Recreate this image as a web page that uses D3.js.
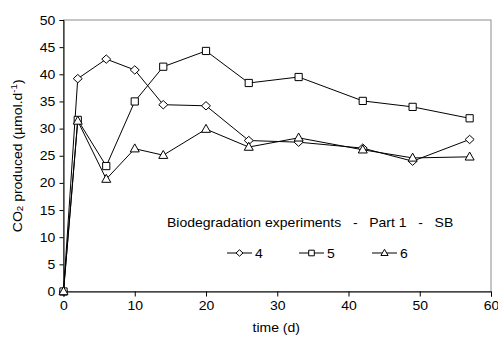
<!DOCTYPE html>
<html><head><meta charset="utf-8">
<script src="https://cdn.jsdelivr.net/npm/d3@7"></script>
<style>body{margin:0;background:#fff}svg{display:block}text{font-family:"Liberation Sans",Arial,sans-serif;fill:#000}</style>
</head><body><svg id="c" width="498" height="343"></svg>
<script>
const days = [0, 2, 6, 10, 14, 20, 26, 33, 42, 49, 57];
const s4 = [0, 39.2, 42.8, 40.8, 34.4, 34.2, 27.8, 27.5, 26.4, 24.0, 28.0];
const s5 = [0, 31.6, 23.1, 35.0, 41.4, 44.3, 38.4, 39.5, 35.1, 34.0, 31.9];
const s6 = [0, 31.4, 20.7, 26.3, 25.1, 29.9, 26.6, 28.3, 26.1, 24.6, 24.8];
const seriesNames = ["4", "5", "6"];
const xTicks = [0, 10, 20, 30, 40, 50, 60];
const yTicks = [0, 5, 10, 15, 20, 25, 30, 35, 40, 45, 50];
const legendTitle = "Biodegradation experiments   -   Part 1   -   SB";

const svg = d3.select("#c");
const L = 63.5, R = 491, T = 20, B = 291.5;
const x = d3.scaleLinear().domain([0, 60]).range([L, R]);
const y = d3.scaleLinear().domain([0, 50]).range([B, T]);
const SX = 1.12, FS = 12.5;

// plot border
svg.append("rect").attr("x", L).attr("y", T).attr("width", R - L).attr("height", B - T)
  .attr("fill", "none").attr("stroke", "#8c8c8c").attr("stroke-width", 1);

// axes
const ax = svg.append("g").attr("transform", `translate(0,${B})`)
  .call(d3.axisBottom(x).tickValues(xTicks).tickSize(5).tickPadding(5));
const ay = svg.append("g").attr("transform", `translate(${L},0)`)
  .call(d3.axisLeft(y).tickValues(yTicks).tickSize(4).tickPadding(4));
[ax, ay].forEach(g => {
  g.select(".domain").attr("stroke", "#000");
  g.selectAll(".tick line").attr("stroke", "#000");
  g.selectAll(".tick text").attr("font-size", FS).attr("fill", "#000")
    .style("font-family", '"Liberation Sans",Arial,sans-serif');
});
ax.selectAll(".tick text").attr("transform", `scale(${SX},1)`);
ay.selectAll(".tick text").attr("transform", `translate(-7,0) scale(${SX},1) translate(7,0)`);

// axis titles
svg.append("text")
  .attr("transform", `translate(${(L+R)/2 - 1},332) scale(${SX},1)`)
  .attr("text-anchor", "middle").attr("font-size", FS).text("time (d)");
const yl = svg.append("text").attr("text-anchor", "middle").attr("font-size", FS)
  .attr("transform", `translate(22,${(T+B)/2}) rotate(-90) scale(${SX},1)`);
yl.append("tspan").text("CO");
yl.append("tspan").attr("font-size", FS*0.7).attr("dy", 1).text("2");
yl.append("tspan").attr("dy", -1).text(" produced (µmol.d");
yl.append("tspan").attr("font-size", FS*0.7).attr("dy", -5).text("-1");
yl.append("tspan").attr("dy", 5).text(")");

// marker shapes (custom symbol types)
function diamondT(w, h){ return {draw(ctx){ ctx.moveTo(0,-h); ctx.lineTo(w,0); ctx.lineTo(0,h); ctx.lineTo(-w,0); ctx.closePath(); }}; }
function squareT(s){ return {draw(ctx){ ctx.rect(-s,-s,2*s,2*s); }}; }
function triT(w, h){ return {draw(ctx){ ctx.moveTo(0,-h*0.6); ctx.lineTo(w,h*0.4); ctx.lineTo(-w,h*0.4); ctx.closePath(); }}; }
const symBig = [diamondT(4.5,4.2), squareT(3.6), triT(4.5,8)];
const symSmall = [diamondT(3.5,3.2), squareT(2.8), triT(3.6,6.2)];

const data = [s4, s5, s6];
const line = d3.line().x(d => x(d[0])).y(d => y(d[1]));
data.forEach(vals => {
  const pts = days.map((d, j) => [d, vals[j]]);
  svg.append("path").attr("d", line(pts)).attr("fill", "none").attr("stroke", "#000").attr("stroke-width", 1);
});
data.forEach((vals, i) => {
  const pts = days.map((d, j) => [d, vals[j]]);
  svg.append("g").selectAll("path").data(pts).join("path")
    .attr("transform", d => `translate(${x(d[0])},${y(d[1])})`)
    .attr("d", d3.symbol().type(symBig[i]))
    .attr("fill", "#fff").attr("stroke", "#000").attr("stroke-width", 1);
});

// legend
svg.append("text").attr("transform", `translate(167,227) scale(${SX},1)`)
  .attr("font-size", FS).attr("xml:space", "preserve").style("white-space", "pre").text(legendTitle);
const lx = [227, 299, 372];
seriesNames.forEach((n, i) => {
  const g = svg.append("g").attr("transform", `translate(${lx[i]},253)`);
  g.append("line").attr("x1", 0).attr("x2", 25).attr("y1", 0).attr("y2", 0).attr("stroke", "#000");
  g.append("path").attr("transform", `translate(12.5,0)`)
    .attr("d", d3.symbol().type(symSmall[i]))
    .attr("fill", "#fff").attr("stroke", "#000");
  g.append("text").attr("transform", `translate(28,4.5) scale(${SX},1)`).attr("font-size", FS).text(n);
});
</script></body></html>
